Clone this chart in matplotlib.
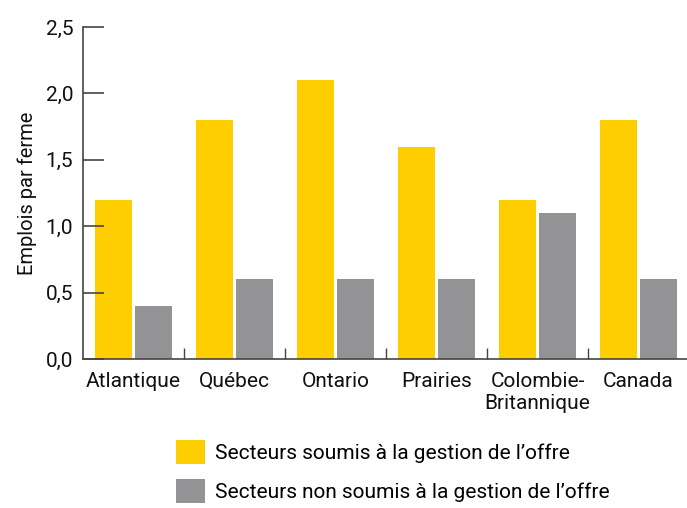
import matplotlib
matplotlib.use("Agg")
import matplotlib.pyplot as plt
import numpy as np

categories = ["Atlantique", "Québec", "Ontario", "Prairies", "Colombie-\nBritannique", "Canada"]
soumis = [1.2, 1.8, 2.1, 1.6, 1.2, 1.8]
non_soumis = [0.4, 0.6, 0.6, 0.6, 1.1, 0.6]
yticks = [0.0, 0.5, 1.0, 1.5, 2.0, 2.5]
ytick_labels = ["0,0", "0,5", "1,0", "1,5", "2,0", "2,5"]
label_soumis = "Secteurs soumis à la gestion de l’offre"
label_non = "Secteurs non soumis à la gestion de l’offre"

plt.rcParams['font.family'] = ['Roboto', 'DejaVu Sans']
yellow = "#FFCE00"
gray = "#939396"
axcol = "#444444"
fs = 15

fig = plt.figure(figsize=(6.87, 5.08), dpi=100)
ax = fig.add_axes([0.1208, 0.2933, 0.882, 0.6535])

x = np.arange(len(categories))
w = 0.37
b1 = ax.bar(x - 0.2, soumis, width=w, color=yellow, label=label_soumis)
b2 = ax.bar(x + 0.2, non_soumis, width=w, color=gray, label=label_non)

ax.set_xlim(-0.5, len(categories) - 0.5)
ax.set_ylim(0, 2.5)
ax.set_yticks(yticks)
ax.set_yticklabels(ytick_labels, fontsize=fs, color="#111111")
ax.set_xticks(x)
ax.set_xticklabels(categories, fontsize=fs, color="#111111", linespacing=1.25)
ax.tick_params(axis='x', length=0, pad=9)
ax.set_xticks(np.arange(len(categories) - 1) + 0.5, minor=True)
ax.tick_params(axis='x', which='minor', direction='in', length=8, width=1, color=axcol)
ax.tick_params(axis='y', direction='in', length=15, width=1.2, color=axcol, pad=7)

for s in ['top', 'right']:
    ax.spines[s].set_visible(False)
for s in ['left', 'bottom']:
    ax.spines[s].set_color(axcol)
    ax.spines[s].set_linewidth(1.2)

ax.set_ylabel("Emplois par ferme", fontsize=14.5, color="#111111", labelpad=6)

fig.legend(handles=[b1, b2], loc='upper left', bbox_to_anchor=(0.256, 0.134),
           frameon=False, fontsize=fs, handlelength=1.4, handleheight=1.4,
           labelspacing=0.72, handletextpad=0.48, borderaxespad=0, borderpad=0)

fig.savefig("out.png", dpi=100)
